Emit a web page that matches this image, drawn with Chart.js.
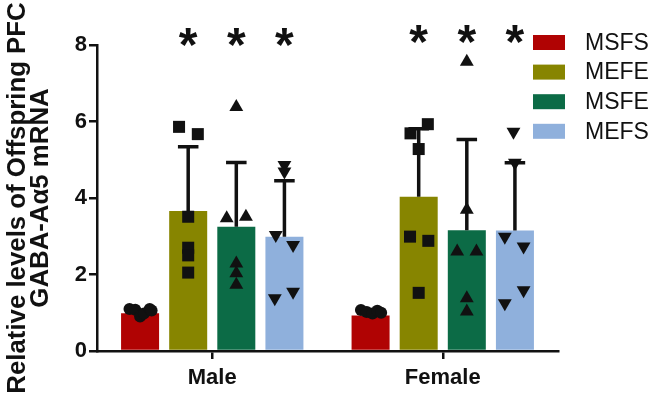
<!DOCTYPE html>
<html>
<head>
<meta charset="utf-8">
<script src="https://cdn.jsdelivr.net/npm/chart.js@4.4.0/dist/chart.umd.min.js"></script>
<style>
html, body { margin: 0; padding: 0; background: #fff; }
#wrap { position: relative; width: 657px; height: 401px; }
.layer { position: absolute; left: 0; top: 0; width: 657px; height: 401px; }
</style>
</head>
<body>
<div id="wrap">
  <div class="layer"><canvas id="bars"></canvas></div>
  <div class="layer"><canvas id="dots"></canvas></div>
</div>
<script>
const groups = ['Male', 'Female']
const series = ['MSFS', 'MEFE', 'MSFE', 'MEFS']
const colors = ['#b00303', '#878500', '#0c6b46', '#8fb0dc']

// bar heights (mean) for [Male, Female]
const meanMSFS = [0.99, 0.93]
const meanMEFE = [3.66, 4.03]
const meanMSFE = [3.25, 3.16]
const meanMEFS = [2.99, 3.15]

// upper error bar length (SD)
const sdMSFS = [0.06, 0.06]
const sdMEFE = [1.68, 1.78]
const sdMSFE = [1.68, 2.37]
const sdMEFS = [1.46, 1.77]

// individual values
const dotsMSFSMale = [1.10, 1.08, 0.90, 0.98, 1.10, 1.06]
const dotsMSFSFemale = [1.07, 1.02, 0.98, 1.05, 1.00]
const dotsMEFEMale = [5.86, 5.67, 3.51, 2.70, 2.50, 2.05]
const dotsMEFEFemale = [5.69, 5.93, 5.28, 2.99, 2.88, 1.52]
const dotsMSFEMale = [6.38, 3.47, 3.51, 2.29, 2.03, 1.73]
const dotsMSFEFemale = [7.56, 3.69, 2.60, 2.60, 1.38, 1.03]
const dotsMEFSMale = [4.86, 4.69, 3.03, 2.77, 1.38, 1.55]
const dotsMEFSFemale = [5.73, 4.92, 2.99, 2.73, 1.59, 1.25]

// horizontal scatter of the dots inside a bar (share of bar slot)
const jitMSFSMale = [-0.22, -0.1, 0.0, 0.08, 0.2, 0.24]
const jitMSFSFemale = [-0.2, -0.08, 0.04, 0.14, 0.22]
const jitMEFEMale = [-0.19, 0.2, 0, 0, 0, 0]
const jitMEFEFemale = [-0.17, 0.19, 0, -0.18, 0.2, 0]
const jitMSFEMale = [0, -0.2, 0.2, 0, 0, 0]
const jitMSFEFemale = [0, 0, -0.2, 0.2, 0, 0]
const jitMEFSMale = [0, 0, -0.18, 0.18, -0.2, 0.18]
const jitMEFSFemale = [-0.03, 0, -0.21, 0.18, 0.18, -0.21]

// significance marks over bars, and the height they sit at
const starsMale = [false, true, true, true]
const starsFemale = [false, true, true, true]
const starLevel = [8.2, 8.3]

const means = [meanMSFS, meanMEFE, meanMSFE, meanMEFS]
const sds = [sdMSFS, sdMEFE, sdMSFE, sdMEFS]
const dots = [[dotsMSFSMale, dotsMSFSFemale], [dotsMEFEMale, dotsMEFEFemale],
    [dotsMSFEMale, dotsMSFEFemale], [dotsMEFSMale, dotsMEFSFemale]]
const jits = [[jitMSFSMale, jitMSFSFemale], [jitMEFEMale, jitMEFEFemale],
    [jitMSFEMale, jitMSFEFemale], [jitMEFSMale, jitMEFSFemale]]
const stars = [starsMale, starsFemale]

const FONT = "'Liberation Sans', Arial, sans-serif"
const INK = '#111'
const catPct = 0.835
const slot = catPct / series.length
const shapes = ['circle', 'rect', 'triangle', 'triangle']
const turns = [0, 0, 0, 180]
const sizes = [6, 8.5, 8, 8]

// both layers share this plot box
const PAD = { left: 6, right: 99, top: 45, bottom: 0 }
const Y_AXIS_W = 91
const X_AXIS_H = 50

const barSets = series.map((s, i) => ({
    label: s,
    data: means[i],
    backgroundColor: colors[i],
    borderWidth: 0,
    categoryPercentage: catPct,
    barPercentage: 0.79
}))

const dotSets = series.map((s, i) => {
    const pts = []
    groups.forEach((g, gi) => {
        dots[i][gi].forEach((v, k) => {
            pts.push({ x: gi + (i - 1.5) * slot + jits[i][gi][k] * slot, y: v })
        })
    })
    return {
        label: s,
        data: pts,
        pointStyle: shapes[i],
        rotation: turns[i],
        pointRadius: sizes[i],
        backgroundColor: INK,
        borderColor: INK,
        borderWidth: 0,
        clip: false
    }
})

const errorBars = {
    id: 'errorBars',
    afterDatasetsDraw(chart) {
        const ctx = chart.ctx
        const y = chart.scales.y
        ctx.save()
        ctx.strokeStyle = INK
        ctx.lineWidth = 3.5
        series.forEach((s, i) => {
            chart.getDatasetMeta(i).data.forEach((bar, g) => {
                const top = y.getPixelForValue(means[i][g] + sds[i][g])
                const cap = bar.width * 0.27
                ctx.beginPath()
                ctx.moveTo(bar.x, bar.y)
                ctx.lineTo(bar.x, top)
                ctx.moveTo(bar.x - cap, top)
                ctx.lineTo(bar.x + cap, top)
                ctx.stroke()
            })
        })
        ctx.restore()
    }
}

const extras = {
    id: 'extras',
    afterDraw(chart) {
        const ctx = chart.ctx
        const y = chart.scales.y
        ctx.save()
        // asterisks
        ctx.fillStyle = INK
        ctx.font = 'bold 48px ' + FONT
        ctx.textAlign = 'center'
        ctx.textBaseline = 'alphabetic'
        const m = ctx.measureText('*')
        const shift = (m.actualBoundingBoxAscent - m.actualBoundingBoxDescent) / 2
        stars.forEach((row, g) => {
            row.forEach((on, i) => {
                if (!on) return
                const bar = chart.getDatasetMeta(i).data[g]
                ctx.fillText('*', bar.x, y.getPixelForValue(starLevel[g]) + shift)
            })
        })
        // legend
        ctx.font = '23px ' + FONT
        ctx.textAlign = 'left'
        ctx.textBaseline = 'middle'
        series.forEach((s, i) => {
            const cy = 42.5 + i * 29.6
            ctx.fillStyle = colors[i]
            ctx.fillRect(533, cy - 7.5, 32, 15)
            ctx.fillStyle = INK
            ctx.fillText(s, 585, cy + 1)
        })
        ctx.restore()
    }
}

new Chart(document.getElementById('bars'), {
    type: 'bar',
    data: { labels: groups, datasets: barSets },
    options: {
        responsive: true,
        maintainAspectRatio: false,
        animation: false,
        layout: { padding: PAD },
        plugins: { legend: { display: false }, tooltip: { enabled: false } },
        scales: {
            x: {
                type: 'category',
                offset: true,
                grid: { offset: false, drawOnChartArea: false, tickLength: 8, color: INK, lineWidth: 2.5 },
                border: { color: INK, width: 2.5 },
                ticks: { color: INK, padding: 6, font: { family: FONT, size: 22, weight: 'bold' } },
                afterFit(s) { s.height = X_AXIS_H }
            },
            y: {
                min: 0,
                max: 8,
                ticks: { stepSize: 2, color: INK, padding: 2, font: { family: FONT, size: 22, weight: 'bold' } },
                grid: { drawOnChartArea: false, tickLength: 8, color: INK, lineWidth: 2.5 },
                border: { color: INK, width: 2.5 },
                title: {
                    display: true,
                    text: ['Relative levels of Offspring PFC', 'GABA-A\u03b15 mRNA'],
                    color: INK,
                    font: { family: FONT, size: 25.8, weight: 'bold', lineHeight: 0.91 },
                    padding: 0
                },
                afterFit(s) { s.width = Y_AXIS_W }
            }
        }
    },
    plugins: [errorBars, extras]
})

// dots on a transparent layer with the same plot box
new Chart(document.getElementById('dots'), {
    type: 'scatter',
    data: { datasets: dotSets },
    options: {
        responsive: true,
        maintainAspectRatio: false,
        animation: false,
        layout: {
            padding: {
                left: PAD.left + Y_AXIS_W,
                right: PAD.right,
                top: PAD.top,
                bottom: PAD.bottom + X_AXIS_H
            }
        },
        plugins: { legend: { display: false }, tooltip: { enabled: false } },
        scales: {
            x: { type: 'linear', display: false, offset: false, min: -0.5, max: 1.5 },
            y: { type: 'linear', display: false, min: 0, max: 8 }
        }
    }
})
</script>
</body>
</html>
